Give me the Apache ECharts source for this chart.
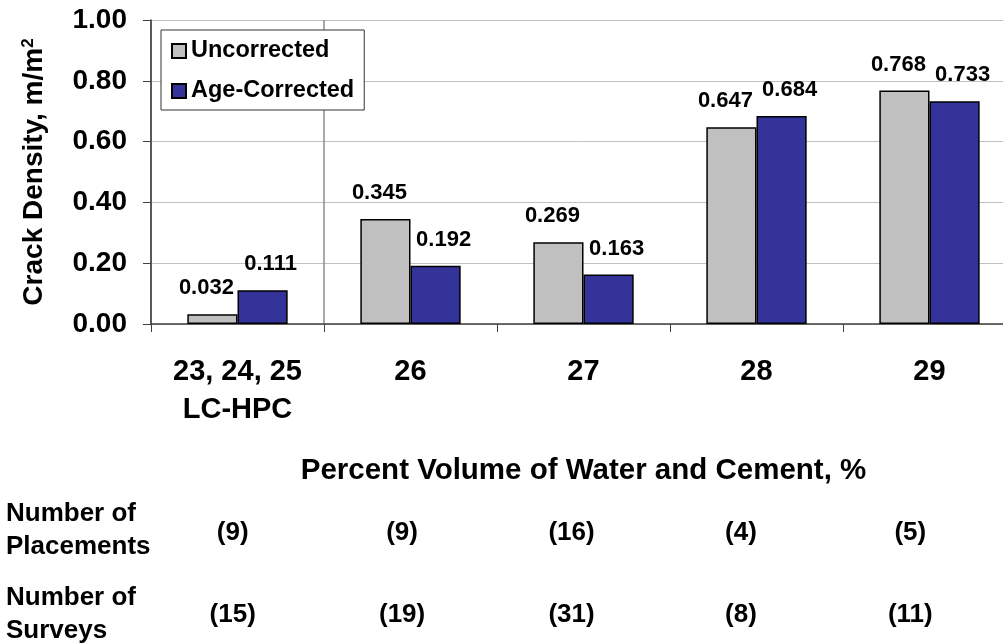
<!DOCTYPE html>
<html>
<head>
<meta charset="utf-8">
<script src="https://cdn.jsdelivr.net/npm/echarts@6/dist/echarts.min.js"></script>
<style>
  html, body { margin: 0; padding: 0; background: #fff; }
  #chart { width: 1003px; height: 644px; }
</style>
</head>
<body>
<div id="chart"></div>
<script>
// Crack density by percent volume of water and cement
const categories = ['23, 24, 25\nLC-HPC', '26', '27', '28', '29'];
const uncorrected = [0.032, 0.345, 0.269, 0.647, 0.768];
const ageCorrected = [0.111, 0.192, 0.163, 0.684, 0.733];
const placements = ['(9)', '(9)', '(16)', '(4)', '(5)'];
const surveys = ['(15)', '(19)', '(31)', '(8)', '(11)'];
const yTickValues = [0, 0.2, 0.4, 0.6, 0.8, 1.0];

const FONT = "'Liberation Sans', Arial, sans-serif";
const chart = echarts.init(document.getElementById('chart'), null, { renderer: 'canvas' });

const valueLabel = (dx) => ({
  show: true,
  position: 'top',
  distance: 14,
  offset: [dx, 0],
  fontFamily: FONT,
  fontWeight: 'bold',
  fontSize: 22,
  lineHeight: 24,
  color: '#000',
  formatter: (p) => p.value.toFixed(3)
});

const countLabel = {
  interval: 0,
  margin: 9,
  fontFamily: FONT,
  fontWeight: 'bold',
  fontSize: 26,
  lineHeight: 28,
  color: '#000'
};

const option = {
  animation: false,
  backgroundColor: '#fff',
  textStyle: { fontFamily: FONT },
  grid: [
    // the last category runs past the right edge of the page
    { left: 151, width: 865, top: 20, bottom: 320, outerBoundsMode: 'none', containLabel: false },
    // strip holding the count rows under the chart
    { left: 148, right: 8, top: 500, height: 10, outerBoundsMode: 'none', containLabel: false }
  ],
  legend: {
    orient: 'vertical',
    left: 161,
    top: 30,
    icon: 'rect',
    itemWidth: 14,
    itemHeight: 14,
    itemGap: 14,
    padding: [8, 10, 6, 10],
    backgroundColor: '#fff',
    borderColor: '#333',
    borderWidth: 1,
    borderRadius: 0,
    textStyle: { fontFamily: FONT, fontWeight: 'bold', fontSize: 23.5, lineHeight: 26, color: '#000' },
    data: ['Uncorrected', 'Age-Corrected']
  },
  xAxis: [
    {
      type: 'category',
      gridIndex: 0,
      data: categories,
      boundaryGap: true,
      name: 'Percent Volume of Water and Cement, %',
      nameLocation: 'middle',
      nameGap: 130,
      nameTextStyle: { fontFamily: FONT, fontWeight: 'bold', fontSize: 29.5, lineHeight: 33, color: '#000' },
      axisLine: { show: true, lineStyle: { color: '#404040', width: 1.5 } },
      axisTick: { show: true, length: 8, interval: 0, lineStyle: { color: '#404040', width: 1 } },
      axisLabel: {
        interval: 0,
        margin: 29,
        fontFamily: FONT,
        fontWeight: 'bold',
        fontSize: 29,
        lineHeight: 38,
        color: '#000'
      },
      // divider after the LC-HPC group
      splitLine: {
        show: true,
        interval: (index) => index <= 1,
        lineStyle: { color: '#8c8c8c', width: 1.5 }
      }
    },
    {
      type: 'category',
      gridIndex: 1,
      data: placements,
      position: 'bottom',
      offset: 0,
      axisLine: { show: false },
      axisTick: { show: false },
      splitLine: { show: false },
      axisLabel: countLabel
    },
    {
      type: 'category',
      gridIndex: 1,
      data: surveys,
      position: 'bottom',
      offset: 82,
      axisLine: { show: false },
      axisTick: { show: false },
      splitLine: { show: false },
      axisLabel: countLabel
    }
  ],
  yAxis: [
    {
      type: 'value',
      gridIndex: 0,
      min: yTickValues[0],
      max: yTickValues[yTickValues.length - 1],
      interval: 0.2,
      name: 'Crack Density, m/m{sup|2}',
      nameLocation: 'middle',
      nameGap: 103,
      nameTextStyle: {
        fontFamily: FONT, fontWeight: 'bold', fontSize: 28, color: '#000',
        rich: { sup: { fontFamily: FONT, fontWeight: 'bold', fontSize: 17, verticalAlign: 'top', color: '#000' } }
      },
      axisLine: { show: true, lineStyle: { color: '#404040', width: 1.5 } },
      axisTick: { show: true, length: 8, lineStyle: { color: '#404040', width: 1 } },
      axisLabel: {
        margin: 24,
        fontFamily: FONT,
        fontWeight: 'bold',
        fontSize: 28,
        color: '#000',
        formatter: (v) => v.toFixed(2)
      },
      splitLine: { show: true, lineStyle: { color: '#c0c0c0', width: 1 } }
    },
    {
      type: 'value',
      gridIndex: 1,
      show: false
    }
  ],
  series: [
    {
      name: 'Uncorrected',
      type: 'bar',
      xAxisIndex: 0,
      yAxisIndex: 0,
      data: uncorrected,
      barGap: '0%',
      barCategoryGap: '42%',
      itemStyle: { color: '#c0c0c0', borderColor: '#000', borderWidth: 1.5 },
      label: valueLabel(-6)
    },
    {
      name: 'Age-Corrected',
      type: 'bar',
      xAxisIndex: 0,
      yAxisIndex: 0,
      data: ageCorrected,
      barGap: '0%',
      barCategoryGap: '42%',
      itemStyle: { color: '#333399', borderColor: '#000', borderWidth: 1.5 },
      label: valueLabel(8)
    }
  ],
  graphic: [
    {
      type: 'text',
      left: 6,
      top: 497,
      style: { text: 'Number of\nPlacements', font: 'bold 26px ' + FONT, lineHeight: 33, fill: '#000' }
    },
    {
      type: 'text',
      left: 6,
      top: 581,
      style: { text: 'Number of\nSurveys', font: 'bold 26px ' + FONT, lineHeight: 33, fill: '#000' }
    }
  ]
};

chart.setOption(option);
</script>
</body>
</html>
